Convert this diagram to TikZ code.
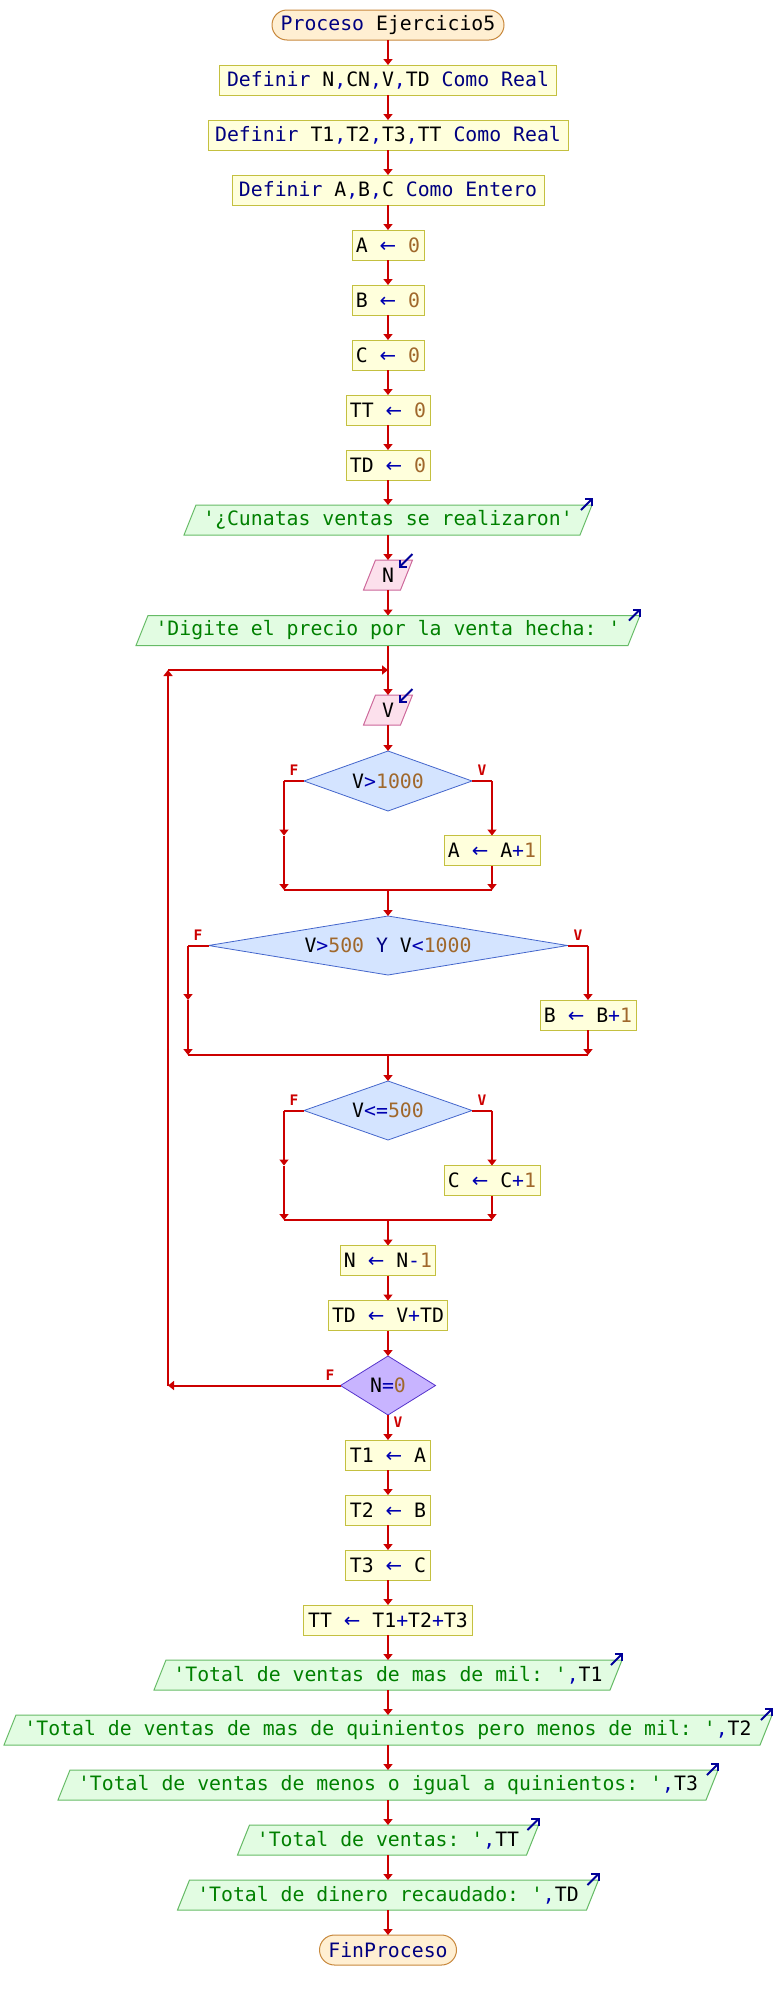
\documentclass[tikz,border=0pt]{standalone}
\usepackage{fontspec}
\setmonofont{DejaVu Sans Mono}
\newfontfamily\arrfont{DejaVu Sans}
\usetikzlibrary{arrows.meta,shapes.geometric}
\definecolor{lnred}{HTML}{CC0000}
\definecolor{procf}{HTML}{FFFFDC}
\definecolor{procb}{HTML}{C4C040}
\definecolor{termf}{HTML}{FFEFD2}
\definecolor{termb}{HTML}{C8883C}
\definecolor{outf}{HTML}{E2FCE2}
\definecolor{outb}{HTML}{66BB66}
\definecolor{inf}{HTML}{FCE0EC}
\definecolor{inb}{HTML}{CC6699}
\definecolor{decf}{HTML}{D4E4FF}
\definecolor{decb}{HTML}{4466CC}
\definecolor{dnf}{HTML}{C8B4FF}
\definecolor{dnb}{HTML}{5533CC}
\definecolor{kwc}{HTML}{000080}
\definecolor{opc}{HTML}{0000B0}
\definecolor{numc}{HTML}{A0682C}
\definecolor{strc}{HTML}{008000}
\definecolor{mkc}{HTML}{000099}
\newcommand\cKw[1]{\textcolor{kwc}{#1}}
\newcommand\cOp[1]{\textcolor{opc}{#1}}
\newcommand\cNum[1]{\textcolor{numc}{#1}}
\newcommand\cStr[1]{\textcolor{strc}{#1}}
\newcommand\cAsg{\textcolor{opc}{{\arrfont ←}}}
% name, x, y, half width, text
\newcommand\pOut[5]{%
  \filldraw[outshape] ({#2-#4-6},{#3+15}) -- ({#2-#4+6},{#3-15}) -- ({#2+#4+6},{#3-15}) -- ({#2+#4-6},{#3+15}) -- cycle;
  \node[minimum width={2*#4}, minimum height=30] (#1) at (#2,#3) {#5};
  \draw[mkarrow] ({#2+#4-5},{#3-10}) -- ++(12,-12);
}
\newcommand\pIn[5]{%
  \filldraw[inshape] ({#2-#4-6},{#3+15}) -- ({#2-#4+6},{#3-15}) -- ({#2+#4+6},{#3-15}) -- ({#2+#4-6},{#3+15}) -- cycle;
  \node[minimum width={2*#4}, minimum height=30] (#1) at (#2,#3) {#5};
  \draw[mkarrow] ({#2+#4+6},{#3-21}) -- ++(-14,14);
}
\begin{document}
\begin{tikzpicture}[x=1pt,y=-1pt,
  every node/.style={font=\ttfamily\fontsize{19.8}{24}\selectfont, inner sep=0pt, outer sep=0pt},
  proc/.style={rectangle, draw=procb, fill=procf, line width=1pt, minimum height=30},
  term/.style={rectangle, rounded corners=15, draw=termb, fill=termf, line width=1pt, minimum height=30},
  dec/.style={diamond, draw=decb, fill=decf, line width=0.8pt},
  conn/.style={draw=lnred, line width=2pt},
  arr/.style={conn, -{Triangle[length=6pt,width=9pt]}},
  lab/.style={font=\ttfamily\bfseries\fontsize{14.5}{15}\selectfont, text=lnred},
  outshape/.style={draw=outb, fill=outf, line width=1pt},
  inshape/.style={draw=inb, fill=inf, line width=1pt},
  mkarrow/.style={draw=mkc, line width=2pt, -{Straight Barb[length=5pt,width=10pt]}}
]
\useasboundingbox (0,0) rectangle (776,2000);

% ---- top sequence
\node[term, minimum width=232] (start) at (388,25) {\cKw{Proceso} Ejercicio5};
\node[proc, minimum width=337] (def1) at (388,80) {\cKw{Definir} N\cOp{,}CN\cOp{,}V\cOp{,}TD \cKw{Como Real}};
\node[proc, minimum width=360] (def2) at (388,135) {\cKw{Definir} T1\cOp{,}T2\cOp{,}T3\cOp{,}TT \cKw{Como Real}};
\node[proc, minimum width=312] (def3) at (388,190) {\cKw{Definir} A\cOp{,}B\cOp{,}C \cKw{Como Entero}};
\node[proc, minimum width=72] (a0) at (388,245) {A \cAsg{} \cNum{0}};
\node[proc, minimum width=72] (b0) at (388,300) {B \cAsg{} \cNum{0}};
\node[proc, minimum width=72] (c0) at (388,355) {C \cAsg{} \cNum{0}};
\node[proc, minimum width=84] (tt0) at (388,410) {TT \cAsg{} \cNum{0}};
\node[proc, minimum width=84] (td0) at (388,465) {TD \cAsg{} \cNum{0}};
\pOut{o1}{388}{520}{198}{\cStr{'¿Cunatas ventas se realizaron'}}
\pIn{inN}{388}{575}{18.5}{N}
\pOut{o2}{388}{630.5}{246}{\cStr{'Digite el precio por la venta hecha: '}}
\pIn{inV}{388}{710}{18.5}{V}

% ---- decisions
\node[dec, minimum width=168, minimum height=60, aspect=2.8] (d1) at (388,781) {V\cOp{>}\cNum{1000}};
\node[proc, minimum width=96] (a1) at (492,850.5) {A \cAsg{} A\cOp{+}\cNum{1}};
\node[dec, minimum width=359, minimum height=59, aspect=6] (d2) at (388,945.5) {V\cOp{>}\cNum{500} \cKw{Y} V\cOp{<}\cNum{1000}};
\node[proc, minimum width=96] (b1) at (588,1015) {B \cAsg{} B\cOp{+}\cNum{1}};
\node[dec, minimum width=168, minimum height=59, aspect=2.8] (d3) at (388,1110.5) {V\cOp{<=}\cNum{500}};
\node[proc, minimum width=96] (c1) at (492,1180.5) {C \cAsg{} C\cOp{+}\cNum{1}};
\node[proc, minimum width=95] (nm1) at (388,1260.5) {N \cAsg{} N\cOp{-}\cNum{1}};
\node[proc, minimum width=119] (tdv) at (388,1315.5) {TD \cAsg{} V\cOp{+}TD};
\node[dec, fill=dnf, draw=dnb, minimum width=95, minimum height=59, aspect=1.6] (dn) at (388,1385.5) {N\cOp{=}\cNum{0}};

% ---- bottom sequence
\node[proc, minimum width=85] (t1) at (388,1455) {T1 \cAsg{} A};
\node[proc, minimum width=85] (t2) at (388,1510) {T2 \cAsg{} B};
\node[proc, minimum width=85] (t3) at (388,1565) {T3 \cAsg{} C};
\node[proc, minimum width=169] (tts) at (388,1620) {TT \cAsg{} T1\cOp{+}T2\cOp{+}T3};
\pOut{o3}{388}{1675}{228}{\cStr{'Total de ventas de mas de mil: '}\cOp{,}T1}
\pOut{o4}{388}{1730}{378}{\cStr{'Total de ventas de mas de quinientos pero menos de mil: '}\cOp{,}T2}
\pOut{o5}{388}{1785}{324}{\cStr{'Total de ventas de menos o igual a quinientos: '}\cOp{,}T3}
\pOut{o6}{388}{1840}{144.5}{\cStr{'Total de ventas: '}\cOp{,}TT}
\pOut{o7}{388}{1895}{204.5}{\cStr{'Total de dinero recaudado: '}\cOp{,}TD}
\node[term, minimum width=137] (fin) at (388,1950) {\cKw{FinProceso}};

% ---- straight connectors
\foreach \p/\q in {start/def1,def1/def2,def2/def3,def3/a0,a0/b0,b0/c0,c0/tt0,tt0/td0,td0/o1,o1/inN,inN/o2,o2/inV,inV/d1,
  nm1/tdv,tdv/dn,dn/t1,t1/t2,t2/t3,t3/tts,tts/o3,o3/o4,o4/o5,o5/o6,o6/o7,o7/fin}
  \draw[arr] (\p.south) -- (\q.north);

% ---- if 1
\coordinate (b1l) at (284,781);
\coordinate (b1r) at (492,781);
\coordinate (m1l) at (284,890);
\coordinate (m1r) at (492,890);
\coordinate (m1c) at (388,890);
\coordinate (k1l) at (284,835.5);
\draw[conn] (d1.west) -- (b1l);
\draw[arr] (b1l) -- (k1l);
\draw[arr] (k1l) -- (m1l);
\draw[conn] (d1.east) -- (b1r);
\draw[arr] (b1r) -- (a1.north);
\draw[arr] (a1.south) -- (m1r);
\draw[conn] (m1l) -- (m1r);
\draw[arr] (m1c) -- (d2.north);
\node[lab] at (294,770) {F};
\node[lab] at (482,770) {V};

% ---- if 2
\coordinate (b2l) at (188,945.5);
\coordinate (b2r) at (588,945.5);
\coordinate (m2l) at (188,1055);
\coordinate (m2r) at (588,1055);
\coordinate (m2c) at (388,1055);
\coordinate (k2l) at (188,1000);
\draw[conn] (d2.west) -- (b2l);
\draw[arr] (b2l) -- (k2l);
\draw[arr] (k2l) -- (m2l);
\draw[conn] (d2.east) -- (b2r);
\draw[arr] (b2r) -- (b1.north);
\draw[arr] (b1.south) -- (m2r);
\draw[conn] (m2l) -- (m2r);
\draw[arr] (m2c) -- (d3.north);
\node[lab] at (198,935) {F};
\node[lab] at (578,935) {V};

% ---- if 3
\coordinate (b3l) at (284,1110.5);
\coordinate (b3r) at (492,1110.5);
\coordinate (m3l) at (284,1220);
\coordinate (m3r) at (492,1220);
\coordinate (m3c) at (388,1220);
\coordinate (k3l) at (284,1165.5);
\draw[conn] (d3.west) -- (b3l);
\draw[arr] (b3l) -- (k3l);
\draw[arr] (k3l) -- (m3l);
\draw[conn] (d3.east) -- (b3r);
\draw[arr] (b3r) -- (c1.north);
\draw[arr] (c1.south) -- (m3r);
\draw[conn] (m3l) -- (m3r);
\draw[arr] (m3c) -- (nm1.north);
\node[lab] at (294,1100) {F};
\node[lab] at (482,1100) {V};

% ---- loop back
\coordinate (l1) at (168,1385.5);
\coordinate (l2) at (168,670);
\coordinate (l3) at (388,670);
\draw[arr] (dn.west) -- (l1);
\draw[arr] (l1) -- (l2);
\draw[arr] (l2) -- (l3);
\node[lab] at (330,1375.5) {F};
\node[lab] at (398,1422) {V};
\end{tikzpicture}
\end{document}
